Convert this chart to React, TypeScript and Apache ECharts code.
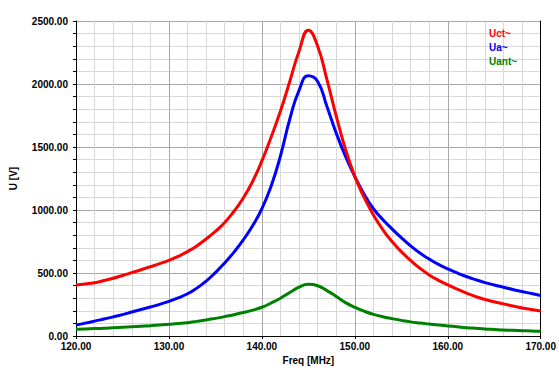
import React, { useEffect, useRef } from "react";
import * as echarts from "echarts";

const freq = [
  120, 121, 122, 123, 124, 125, 126, 127, 128, 129,
  130, 131, 132, 133, 134, 135, 136, 137, 138, 139,
  140, 141, 142, 143, 144, 145, 146, 147, 148, 149,
  150, 151, 152, 153, 154, 155, 156, 157, 158, 159,
  160, 161, 162, 163, 164, 165, 166, 167, 168, 169, 170,
];
const uct = [
  405, 413, 423, 440, 458, 480, 503, 526, 550, 574,
  600, 632, 670, 715, 770, 830, 900, 990, 1095, 1226,
  1390, 1580, 1785, 2020, 2260, 2427, 2300, 2035, 1745, 1480,
  1267, 1100, 960, 845, 750, 670, 600, 538, 485, 442,
  406, 372, 340, 313, 290, 272, 255, 238, 223, 210, 199,
];
const ua = [
  88, 102, 118, 135, 152, 170, 190, 210, 230, 251,
  275, 303, 335, 380, 435, 503, 580, 666, 763, 875,
  1010, 1190, 1430, 1720, 1950, 2065, 2020, 1822, 1610, 1425,
  1265, 1125, 1010, 925, 850, 780, 715, 658, 610, 568,
  533, 501, 472, 447, 424, 405, 387, 369, 353, 337, 322,
];
const uant = [
  53, 56, 59, 62, 66, 70, 74, 78, 82, 87,
  93, 99, 106, 116, 127, 140, 154, 169, 186, 205,
  228, 262, 300, 345, 388, 410, 399, 360, 314, 265,
  228, 197, 172, 153, 138, 124, 112, 103, 95, 87,
  80, 73, 66, 61, 56, 52, 48, 45, 42, 39, 37,
];

const seriesNames = ["Uct~", "Ua~", "Uant~"];
const seriesColors = ["#ff0000", "#0000ff", "#008000"];

const pairs = (xs: number[], ys: number[]) => xs.map((x, i) => [x, ys[i]]);

export default function App() {
  const ref = useRef<HTMLDivElement>(null);
  useEffect(() => {
    if (!ref.current) return;
    const chart = echarts.init(ref.current, null, { renderer: "svg" });
    const font = "'Liberation Sans', Arial, sans-serif";
    const datasets = [pairs(freq, uct), pairs(freq, ua), pairs(freq, uant)];
    chart.setOption({
      animation: false,
      backgroundColor: "#ffffff",
      grid: { left: 72, right: 18, top: 21, bottom: 37 },
      legend: {
        orient: "vertical",
        left: 479,
        top: 23,
        icon: "none",
        itemWidth: 0,
        itemHeight: 11,
        itemGap: 3.5,
        selectedMode: false,
        data: seriesNames.map((n, i) => ({
          name: n,
          textStyle: { color: seriesColors[i], fontWeight: "bold", fontSize: 10, fontFamily: font },
        })),
      },
      xAxis: {
        type: "value",
        min: 120,
        max: 170,
        interval: 10,
        name: "Freq [MHz]",
        nameLocation: "middle",
        nameGap: 19,
        nameTextStyle: { color: "#000", fontWeight: "bold", fontSize: 10, fontFamily: font },
        axisLine: { show: true, onZero: false, lineStyle: { color: "#000", width: 1 } },
        axisTick: { show: true, length: 3, lineStyle: { color: "#000" } },
        minorTick: { show: false },
        axisLabel: {
          color: "#000",
          fontWeight: "bold",
          fontSize: 10,
          fontFamily: font,
          margin: 5,
          formatter: (v: number) => v.toFixed(2),
        },
        splitLine: { show: true, lineStyle: { color: "#a8a8a8", width: 1 } },
        minorSplitLine: { show: true, lineStyle: { color: "#d8d8d8", width: 1 } },
      },
      yAxis: [
        {
          type: "value",
          min: 0,
          max: 2500,
          interval: 500,
          name: "U [V]",
          nameLocation: "middle",
          nameGap: 58,
          nameTextStyle: { color: "#000", fontWeight: "bold", fontSize: 10, fontFamily: font },
          axisLine: { show: true, lineStyle: { color: "#000", width: 1 } },
          axisTick: { show: true, length: 3, lineStyle: { color: "#000" } },
          minorTick: { show: true, splitNumber: 5, length: 3, lineStyle: { color: "#000" } },
          axisLabel: {
            color: "#000",
            fontWeight: "bold",
            fontSize: 10,
            fontFamily: font,
            margin: 8,
            formatter: (v: number) => v.toFixed(2),
          },
          splitLine: { show: true, lineStyle: { color: "#a8a8a8", width: 1 } },
          minorSplitLine: { show: true, lineStyle: { color: "#d8d8d8", width: 1 } },
        },
        {
          type: "value",
          min: 0,
          max: 2500,
          interval: 500,
          position: "right",
          axisLine: { show: true, lineStyle: { color: "#000", width: 1 } },
          axisTick: { show: false },
          axisLabel: { show: false },
          splitLine: { show: false },
        },
      ],
      series: seriesNames.map((n, i) => ({
        name: n,
        type: "line",
        yAxisIndex: 0,
        data: datasets[i],
        smooth: 0.5,
        showSymbol: false,
        symbol: "none",
        lineStyle: { color: seriesColors[i], width: 3 },
        itemStyle: { color: seriesColors[i] },
        z: 3 - i,
      })),
    });
    return () => chart.dispose();
  }, []);
  return <div ref={ref} style={{ position: "fixed", left: 0, top: 0, width: 559, height: 373 }} />;
}
